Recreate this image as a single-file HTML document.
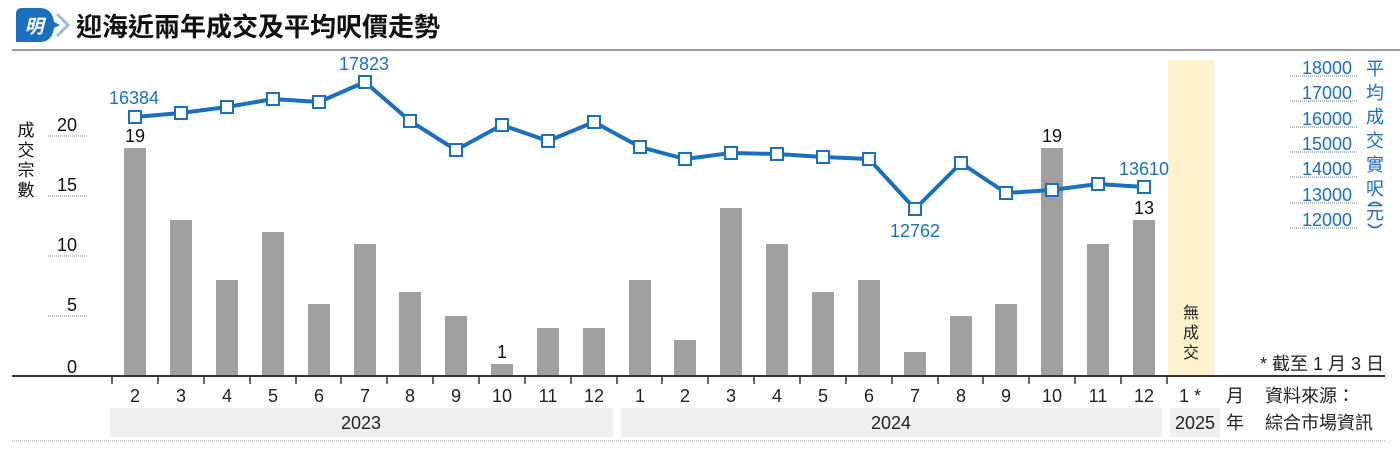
<!DOCTYPE html>
<html><head><meta charset="utf-8"><style>
html,body{margin:0;padding:0;background:#fff;}
svg{display:block;font-family:"Liberation Sans","Noto Sans CJK TC",sans-serif;}
</style></head><body>
<svg width="1400" height="453" viewBox="0 0 1400 453" xmlns="http://www.w3.org/2000/svg">
<path d="M16 14 Q16 8 22 8 L40 8 Q52 8 54 22 L60 25 L54 28 Q52 42 40 42 L16 42 Z" fill="#1a6fbf"/>
<path d="M57 14 L68 25 L57 36" fill="none" stroke="#9dbde0" stroke-width="3"/>
<text x="34" y="33" font-size="19" font-weight="bold" fill="#fff" text-anchor="middle" font-style="italic">明</text>
<text x="76" y="36" font-size="26" font-weight="bold" fill="#111">迎海近兩年成交及平均呎價走勢</text>
<line x1="12" y1="50" x2="1400" y2="50" stroke="#999" stroke-width="2"/>
<rect x="1168" y="60" width="46" height="316" fill="#fdf2cc"/>
<g font-size="16" fill="#222" text-anchor="middle"><text x="1191" y="318">無</text><text x="1191" y="338">成</text><text x="1191" y="358">交</text></g>
<g font-size="17" fill="#111" text-anchor="middle">
<text x="26" y="136">成</text><text x="26" y="156">交</text><text x="26" y="176">宗</text><text x="26" y="196">數</text>
</g>
<g stroke="#888" stroke-width="1" stroke-dasharray="1,1">
<line x1="48" y1="136" x2="87" y2="136"/><line x1="48" y1="196" x2="87" y2="196"/>
<line x1="48" y1="256" x2="87" y2="256"/><line x1="48" y1="316" x2="87" y2="316"/>
</g>
<g font-size="18" fill="#111" text-anchor="end">
<text x="77" y="131">20</text><text x="77" y="191">15</text><text x="77" y="251">10</text><text x="77" y="311">5</text><text x="77" y="373">0</text>
</g>
<g stroke="#777" stroke-width="1" stroke-dasharray="1,1">
<line x1="1290" y1="76" x2="1357" y2="76"/><line x1="1290" y1="101" x2="1357" y2="101"/>
<line x1="1290" y1="127" x2="1357" y2="127"/><line x1="1290" y1="152" x2="1357" y2="152"/>
<line x1="1290" y1="177" x2="1357" y2="177"/><line x1="1290" y1="203" x2="1357" y2="203"/>
<line x1="1290" y1="228" x2="1357" y2="228"/>
</g>
<g font-size="18" fill="#1a6fbf" text-anchor="end">
<text x="1352" y="74">18000</text><text x="1352" y="99">17000</text><text x="1352" y="125">16000</text><text x="1352" y="150">15000</text><text x="1352" y="175">14000</text><text x="1352" y="201">13000</text><text x="1352" y="226">12000</text>
</g>
<g font-size="18" fill="#1a6fbf" text-anchor="middle">
<text x="1375" y="75">平</text><text x="1375" y="99">均</text><text x="1375" y="123">成</text><text x="1375" y="147">交</text><text x="1375" y="171">實</text><text x="1375" y="195">呎</text>
<text x="1375" y="219">元</text>
</g>
<path d="M1368 206 Q1375 199 1382 206" fill="none" stroke="#1a6fbf" stroke-width="1.6"/>
<path d="M1368 224 Q1375 231 1382 224" fill="none" stroke="#1a6fbf" stroke-width="1.6"/>
<g fill="#a0a0a0">
<rect x="124" y="148" width="22" height="228"/>
<rect x="170" y="220" width="22" height="156"/>
<rect x="216" y="280" width="22" height="96"/>
<rect x="262" y="232" width="22" height="144"/>
<rect x="308" y="304" width="22" height="72"/>
<rect x="354" y="244" width="22" height="132"/>
<rect x="399" y="292" width="22" height="84"/>
<rect x="445" y="316" width="22" height="60"/>
<rect x="491" y="364" width="22" height="12"/>
<rect x="537" y="328" width="22" height="48"/>
<rect x="583" y="328" width="22" height="48"/>
<rect x="629" y="280" width="22" height="96"/>
<rect x="674" y="340" width="22" height="36"/>
<rect x="720" y="208" width="22" height="168"/>
<rect x="766" y="244" width="22" height="132"/>
<rect x="812" y="292" width="22" height="84"/>
<rect x="858" y="280" width="22" height="96"/>
<rect x="904" y="352" width="22" height="24"/>
<rect x="950" y="316" width="22" height="60"/>
<rect x="995" y="304" width="22" height="72"/>
<rect x="1041" y="148" width="22" height="228"/>
<rect x="1087" y="244" width="22" height="132"/>
<rect x="1133" y="220" width="22" height="156"/>
</g>
<g font-size="18" fill="#111" text-anchor="middle">
<text x="135" y="142">19</text><text x="502" y="358">1</text><text x="1052" y="142">19</text><text x="1144" y="214">13</text>
</g>
<polyline fill="none" stroke="#1a6fbf" stroke-width="4" stroke-linejoin="round" points="135,117 181,113 227,107 273,99 319,102 365,82 410,121 456,150 502,125 548,141 594,122 640,147 685,159 731,153 777,154 823,157 869,159 915,209 961,163 1006,193 1052,190 1098,184 1144,187"/>
<g fill="#fff" stroke="#1a6fbf" stroke-width="2">
<rect x="129" y="111" width="12" height="12"/><rect x="175" y="107" width="12" height="12"/><rect x="221" y="101" width="12" height="12"/><rect x="267" y="93" width="12" height="12"/><rect x="313" y="96" width="12" height="12"/><rect x="359" y="76" width="12" height="12"/><rect x="404" y="115" width="12" height="12"/><rect x="450" y="144" width="12" height="12"/><rect x="496" y="119" width="12" height="12"/><rect x="542" y="135" width="12" height="12"/><rect x="588" y="116" width="12" height="12"/><rect x="634" y="141" width="12" height="12"/><rect x="679" y="153" width="12" height="12"/><rect x="725" y="147" width="12" height="12"/><rect x="771" y="148" width="12" height="12"/><rect x="817" y="151" width="12" height="12"/><rect x="863" y="153" width="12" height="12"/><rect x="909" y="203" width="12" height="12"/><rect x="955" y="157" width="12" height="12"/><rect x="1000" y="187" width="12" height="12"/><rect x="1046" y="184" width="12" height="12"/><rect x="1092" y="178" width="12" height="12"/><rect x="1138" y="181" width="12" height="12"/>
</g>
<g font-size="18" fill="#1a6fbf" text-anchor="middle">
<text x="134" y="104">16384</text><text x="364" y="70">17823</text><text x="915" y="237">12762</text><text x="1144" y="175">13610</text>
</g>
<line x1="12" y1="376" x2="1385" y2="376" stroke="#333" stroke-width="2"/>
<g stroke="#333" stroke-width="1.5">
<line x1="112" y1="377" x2="112" y2="384"/><line x1="158" y1="377" x2="158" y2="384"/><line x1="204" y1="377" x2="204" y2="384"/><line x1="250" y1="377" x2="250" y2="384"/><line x1="296" y1="377" x2="296" y2="384"/><line x1="341" y1="377" x2="341" y2="384"/><line x1="387" y1="377" x2="387" y2="384"/><line x1="433" y1="377" x2="433" y2="384"/><line x1="479" y1="377" x2="479" y2="384"/><line x1="525" y1="377" x2="525" y2="384"/><line x1="571" y1="377" x2="571" y2="384"/><line x1="617" y1="377" x2="617" y2="384"/><line x1="662" y1="377" x2="662" y2="384"/><line x1="708" y1="377" x2="708" y2="384"/><line x1="754" y1="377" x2="754" y2="384"/><line x1="800" y1="377" x2="800" y2="384"/><line x1="846" y1="377" x2="846" y2="384"/><line x1="892" y1="377" x2="892" y2="384"/><line x1="938" y1="377" x2="938" y2="384"/><line x1="983" y1="377" x2="983" y2="384"/><line x1="1029" y1="377" x2="1029" y2="384"/><line x1="1075" y1="377" x2="1075" y2="384"/><line x1="1121" y1="377" x2="1121" y2="384"/><line x1="1167" y1="377" x2="1167" y2="384"/>
</g>
<g font-size="18" fill="#222" text-anchor="middle">
<text x="135" y="402">2</text><text x="181" y="402">3</text><text x="227" y="402">4</text><text x="273" y="402">5</text><text x="319" y="402">6</text><text x="365" y="402">7</text><text x="410" y="402">8</text><text x="456" y="402">9</text><text x="502" y="402">10</text><text x="548" y="402">11</text><text x="594" y="402">12</text><text x="640" y="402">1</text><text x="685" y="402">2</text><text x="731" y="402">3</text><text x="777" y="402">4</text><text x="823" y="402">5</text><text x="869" y="402">6</text><text x="915" y="402">7</text><text x="961" y="402">8</text><text x="1006" y="402">9</text><text x="1052" y="402">10</text><text x="1098" y="402">11</text><text x="1144" y="402">12</text><text x="1190" y="402">1 *</text>
</g>
<rect x="110" y="408" width="503" height="29" fill="#efefef"/>
<rect x="621" y="408" width="541" height="29" fill="#efefef"/>
<rect x="1170" y="408" width="50" height="29" fill="#efefef"/>
<g font-size="18" fill="#222" text-anchor="middle">
<text x="361" y="429">2023</text><text x="891" y="429">2024</text><text x="1195" y="429">2025</text>
</g>
<g font-size="18" fill="#222">
<text x="1226" y="402">月</text><text x="1226" y="429">年</text>
<text x="1265" y="402">資料來源：</text><text x="1265" y="429">綜合市場資訊</text>
<text x="1384" y="370" text-anchor="end">* 截至 1 月 3 日</text>
</g>
<line x1="12" y1="441" x2="1385" y2="441" stroke="#999" stroke-width="1" stroke-dasharray="1,1"/>
</svg>
</body></html>
